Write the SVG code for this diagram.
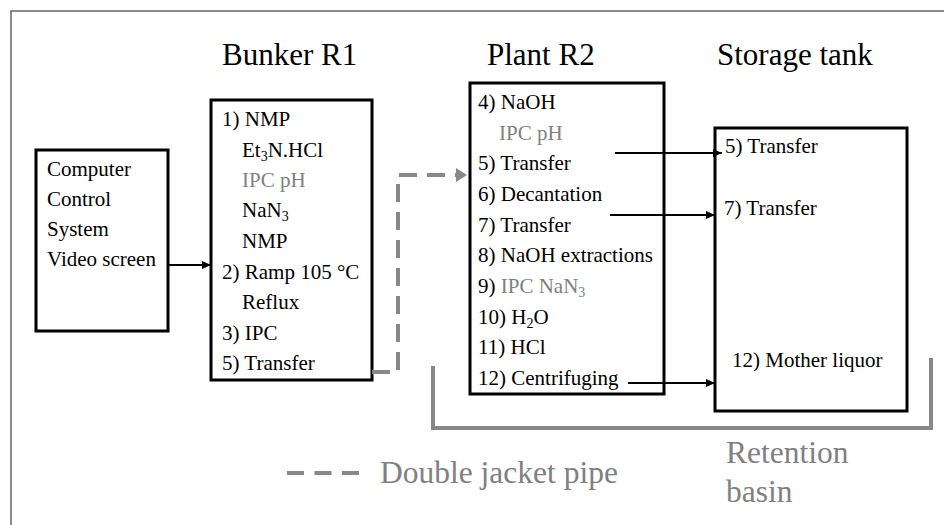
<svg xmlns="http://www.w3.org/2000/svg" width="944" height="525" viewBox="0 0 944 525">
<style>
text{font-family:"Liberation Serif","Times New Roman",serif;fill:#000}
.t{font-size:21px}
.h{font-size:31px}
.l{font-size:31.5px}
.g{fill:#808080}
.box{fill:#fff;stroke:#000;stroke-width:3}
.conn{stroke:#000;stroke-width:2;fill:none}
.pipe{stroke:#888;stroke-width:4;fill:none;stroke-dasharray:18 10}
.basin{stroke:#888;stroke-width:4;fill:none}
.sub{font-size:14px}
</style>
<defs>
<marker id="ah" markerUnits="userSpaceOnUse" markerWidth="10" markerHeight="10" refX="9" refY="5" orient="auto">
<path d="M0,1 L9,5 L0,9 Z" fill="#000"/>
</marker>
</defs>
<rect x="11" y="11" width="950" height="530" fill="#fff" stroke="#666" stroke-width="1.5"/>

<g id="title-bunker"><text class="h" x="222" y="65">Bunker R1</text></g>
<g id="title-plant"><text class="h" x="487" y="65">Plant R2</text></g>
<g id="title-storage"><text class="h" x="717" y="65">Storage tank</text></g>

<g id="basin">
<path class="basin" d="M433 366 V428 H931 V358"/>
<text class="l g" x="726" y="463">Retention</text>
<text class="l g" x="726" y="502">basin</text>
</g>

<g id="computer">
<rect class="box" x="36" y="150" width="132" height="181"/>
<text class="t" x="47" y="176">Computer</text>
<text class="t" x="47" y="206">Control</text>
<text class="t" x="47" y="236">System</text>
<text class="t" x="47" y="266">Video screen</text>
</g>

<g id="bunker">
<rect class="box" x="211" y="100" width="161" height="280"/>
<text class="t" x="222" y="126">1) NMP</text>
<text class="t" x="242" y="156.5">Et<tspan class="sub" dy="4">3</tspan><tspan dy="-4">N.HCl</tspan></text>
<text class="t g" x="242" y="187">IPC pH</text>
<text class="t" x="242" y="217">NaN<tspan class="sub" dy="4">3</tspan></text>
<text class="t" x="242" y="248">NMP</text>
<text class="t" x="222" y="278.5">2) Ramp 105 °C</text>
<text class="t" x="242" y="309">Reflux</text>
<text class="t" x="222" y="339.5">3) IPC</text>
<text class="t" x="222" y="370">5) Transfer</text>
</g>

<g id="plant">
<rect class="box" x="470" y="83" width="194" height="311"/>
<text class="t" x="478" y="109">4) NaOH</text>
<text class="t g" x="499" y="139.5">IPC pH</text>
<text class="t" x="478" y="170">5) Transfer</text>
<text class="t" x="478" y="201">6) Decantation</text>
<text class="t" x="478" y="231.5">7) Transfer</text>
<text class="t" x="478" y="262">8) NaOH extractions</text>
<text class="t" x="478" y="293">9) <tspan class="g">IPC NaN</tspan><tspan class="sub g" dy="4">3</tspan></text>
<text class="t" x="478" y="323.5">10) H<tspan class="sub" dy="4">2</tspan><tspan dy="-4">O</tspan></text>
<text class="t" x="478" y="354">11) HCl</text>
<text class="t" x="478" y="384.5">12) Centrifuging</text>
</g>

<g id="storage">
<rect class="box" x="715" y="128" width="192" height="283"/>
<text class="t" x="725" y="153">5) Transfer</text>
<text class="t" x="724" y="215">7) Transfer</text>
<text class="t" x="732" y="367">12) Mother liquor</text>
</g>

<g id="connectors">
<line class="conn" x1="168" y1="265" x2="211" y2="265" marker-end="url(#ah)"/>
<line class="conn" x1="615" y1="153" x2="722" y2="153" marker-end="url(#ah)"/>
<line class="conn" x1="610" y1="215" x2="715" y2="215" marker-end="url(#ah)"/>
<line class="conn" x1="628" y1="383" x2="715" y2="383" marker-end="url(#ah)"/>
<path class="pipe" d="M372 372 H398 V175 H458"/>
<polygon points="456,168 467,175 456,182" fill="#888"/>
</g>

<g id="legend">
<line class="pipe" x1="287" y1="473" x2="360" y2="473" style="stroke-dasharray:17 10.5"/>
<text class="l g" x="380" y="483">Double jacket pipe</text>
</g>
</svg>
